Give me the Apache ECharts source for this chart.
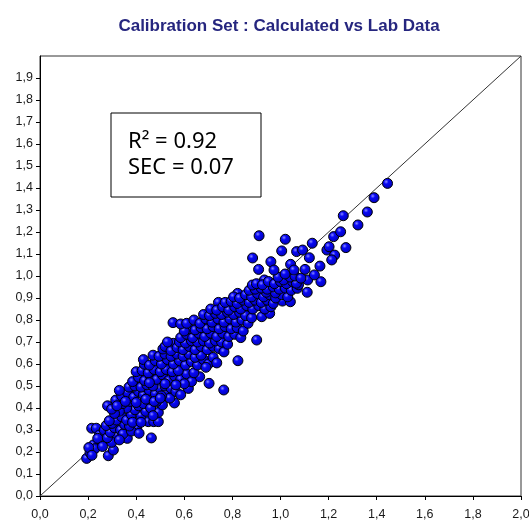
<!DOCTYPE html>
<html>
<head>
<meta charset="utf-8">
<title>Calibration Set</title>
<script src="https://cdn.jsdelivr.net/npm/echarts@6/dist/echarts.min.js"></script>
<style>
  html, body { margin: 0; padding: 0; background: #fff; }
  #main { width: 529px; height: 524px; }
</style>
</head>
<body>
<div id="main"></div>
<script>
// lab value vs calculated value
var samplePairs = [
  // low end
  [0.194,0.171],[0.208,0.197],[0.222,0.232],[0.284,0.183],[0.305,0.209],[0.215,0.308],[0.234,0.308],
  [0.247,0.277],[0.267,0.300],[0.363,0.262],[0.321,0.277],[0.298,0.244],[0.402,0.308],[0.228,0.215],
  [0.256,0.250],[0.240,0.262],[0.280,0.265],[0.292,0.290],[0.310,0.310],[0.335,0.300],[0.345,0.282],
  [0.260,0.225],[0.275,0.320],[0.330,0.255],[0.352,0.325],[0.380,0.295],[0.372,0.318],[0.412,0.285],
  [0.300,0.330],[0.318,0.345],[0.288,0.342],[0.203,0.220],[0.216,0.185],[0.463,0.264],
  // 0.33 - 0.44
  [0.281,0.410],[0.315,0.436],[0.402,0.353],[0.450,0.338],[0.473,0.338],[0.492,0.338],[0.492,0.380],
  [0.509,0.414],[0.340,0.360],[0.360,0.345],[0.380,0.370],[0.420,0.365],[0.440,0.385],[0.395,0.392],
  [0.360,0.400],[0.330,0.385],[0.345,0.420],[0.375,0.430],[0.410,0.410],[0.430,0.420],[0.460,0.400],
  [0.470,0.365],[0.310,0.375],[0.298,0.395],[0.385,0.335],[0.420,0.335],[0.455,0.440],[0.485,0.430],
  [0.350,0.440],[0.320,0.410],
  // 0.42 - 0.50
  [0.559,0.423],[0.617,0.489],[0.340,0.455],[0.365,0.470],[0.390,0.450],[0.410,0.475],[0.430,0.460],
  [0.455,0.480],[0.480,0.465],[0.500,0.490],[0.525,0.470],[0.540,0.445],[0.370,0.495],[0.395,0.500],
  [0.420,0.495],[0.445,0.505],[0.470,0.500],[0.505,0.455],[0.520,0.500],[0.545,0.490],[0.355,0.430],
  [0.400,0.425],[0.440,0.440],[0.475,0.430],[0.500,0.445],[0.565,0.475],[0.585,0.460],[0.330,0.480],
  // 0.50 - 0.57
  [0.664,0.542],[0.703,0.512],[0.764,0.482],[0.385,0.520],[0.410,0.540],[0.435,0.525],[0.460,0.545],
  [0.485,0.530],[0.510,0.550],[0.535,0.525],[0.560,0.545],[0.585,0.530],[0.610,0.555],[0.630,0.520],
  [0.400,0.565],[0.425,0.570],[0.450,0.560],[0.475,0.575],[0.500,0.565],[0.525,0.575],[0.550,0.565],
  [0.575,0.570],[0.600,0.510],[0.640,0.560],[0.455,0.515],[0.520,0.510],[0.565,0.505],
  // 0.58 - 0.64
  [0.434,0.599],[0.823,0.615],[0.430,0.620],[0.455,0.595],[0.480,0.615],[0.505,0.600],[0.530,0.620],
  [0.555,0.600],[0.580,0.615],[0.605,0.595],[0.630,0.610],[0.655,0.595],[0.680,0.620],[0.700,0.600],
  [0.470,0.640],[0.495,0.635],[0.520,0.645],[0.545,0.635],[0.570,0.645],[0.595,0.635],[0.620,0.645],
  [0.645,0.630],[0.670,0.640],[0.720,0.630],[0.690,0.585],[0.735,0.605],
  // 0.65 - 0.70
  [0.511,0.668],[0.554,0.694],[0.520,0.680],[0.545,0.660],[0.570,0.675],[0.595,0.665],[0.620,0.680],
  [0.645,0.665],[0.670,0.680],[0.695,0.665],[0.720,0.680],[0.745,0.670],[0.765,0.655],[0.580,0.700],
  [0.605,0.695],[0.630,0.705],[0.655,0.700],[0.680,0.705],[0.705,0.695],[0.730,0.705],[0.755,0.700],
  [0.780,0.690],[0.530,0.700],
  // 0.70 - 0.77
  [0.901,0.709],[0.585,0.720],[0.610,0.735],[0.635,0.720],[0.660,0.740],[0.685,0.725],[0.710,0.740],
  [0.735,0.725],[0.760,0.740],[0.785,0.725],[0.810,0.735],[0.835,0.720],[0.620,0.760],[0.645,0.755],
  [0.670,0.765],[0.695,0.760],[0.720,0.770],[0.745,0.760],[0.770,0.770],[0.795,0.760],[0.820,0.765],
  [0.845,0.750],[0.600,0.750],
  // 0.77 - 0.83
  [0.553,0.788],[0.585,0.782],[0.610,0.785],[0.640,0.800],[0.665,0.785],[0.690,0.805],[0.715,0.790],
  [0.740,0.805],[0.765,0.790],[0.790,0.805],[0.815,0.790],[0.840,0.800],[0.865,0.785],[0.680,0.825],
  [0.705,0.820],[0.730,0.830],[0.755,0.825],[0.780,0.835],[0.805,0.825],[0.830,0.835],[0.855,0.820],
  [0.880,0.810],[0.922,0.815],[0.955,0.830],
  // 0.84 - 0.89
  [0.742,0.880],[0.710,0.850],[0.735,0.845],[0.760,0.860],[0.785,0.845],[0.810,0.860],[0.835,0.850],
  [0.860,0.865],[0.885,0.850],[0.910,0.865],[0.935,0.850],[0.960,0.860],[0.770,0.880],[0.795,0.885],
  [0.820,0.875],[0.845,0.890],[0.870,0.880],[0.895,0.890],[0.920,0.880],[0.945,0.890],[0.970,0.875],
  [1.008,0.886],[1.041,0.883],
  // 0.90 - 0.95
  [0.822,0.921],[0.805,0.905],[0.830,0.900],[0.855,0.915],[0.880,0.905],[0.905,0.920],[0.930,0.905],
  [0.955,0.915],[0.980,0.900],[1.005,0.915],[1.030,0.905],[0.941,0.926],[0.979,0.923],[0.870,0.935],
  [0.895,0.940],[0.920,0.945],[0.945,0.940],[0.970,0.950],[0.995,0.940],[1.020,0.945],[1.045,0.935],
  [1.070,0.944],[1.111,0.926],
  // 0.95 - 1.01
  [0.883,0.959],[0.933,0.982],[0.900,0.965],[0.925,0.960],[0.950,0.975],[0.975,0.965],[1.000,0.975],
  [1.025,0.965],[1.050,0.975],[1.075,0.960],[1.066,0.967],[1.013,0.982],[1.113,0.982],[1.168,0.974],
  [0.990,0.995],[1.040,0.995],[1.060,1.000],[1.085,0.990],[1.019,1.009],[1.141,1.005],
  // upper end
  [0.911,1.183],[1.020,1.167],[1.132,1.149],[1.005,1.114],[1.067,1.111],[1.092,1.118],[1.193,1.118],
  [1.202,1.133],[1.225,1.095],[1.213,1.073],[0.884,1.082],[0.960,1.065],[1.120,1.083],[1.042,1.053],
  [0.909,1.030],[0.973,1.027],[1.102,1.030],[1.164,1.045],[1.056,1.027],[1.221,1.179],[1.250,1.201],
  [1.272,1.129],[1.261,1.274],[1.322,1.232],[1.361,1.291],[1.389,1.356],[1.445,1.421]
];
var identityLine = [[0, 0], [2, 2]];
var statLines = ['R² = 0.92', 'SEC = 0.07'];
var chartTitle = 'Calibration Set : Calculated vs Lab Data';

function commaLabel(v) {
  return v.toFixed(1).replace('.', ',');
}

var chart = echarts.init(document.getElementById('main'));
var option = {
  animation: false,
  backgroundColor: '#ffffff',
  title: {
    text: chartTitle,
    left: 274,
    top: 13,
    textAlign: 'center',
    textStyle: {
      fontFamily: 'Liberation Sans',
      fontSize: 17,
      fontWeight: 'bold',
      color: '#26267f'
    }
  },
  grid: {
    left: 40,
    top: 56,
    right: 8,
    bottom: 28,
    show: true,
    borderColor: '#333',
    borderWidth: 1,
    outerBoundsMode: 'none'
  },
  xAxis: {
    type: 'value',
    min: 0,
    max: 2,
    interval: 0.2,
    axisLine: { lineStyle: { color: '#000', width: 1 } },
    axisTick: { show: true, length: 4, lineStyle: { color: '#000' } },
    splitLine: { show: false },
    axisLabel: {
      margin: 12,
      color: '#1a1a1a',
      fontFamily: 'Liberation Sans',
      fontSize: 12.5,
      formatter: commaLabel
    }
  },
  yAxis: {
    type: 'value',
    min: 0,
    max: 2,
    interval: 0.1,
    axisLine: { lineStyle: { color: '#000', width: 1 } },
    axisTick: { show: true, length: 4, lineStyle: { color: '#000' } },
    splitLine: { show: false },
    axisLabel: {
      margin: 7,
      color: '#1a1a1a',
      fontFamily: 'Liberation Sans',
      fontSize: 12.5,
      showMaxLabel: false,
      formatter: commaLabel
    }
  },
  graphic: [
    {
      type: 'rect',
      shape: { x: 111, y: 113, width: 150, height: 84 },
      style: { fill: '#fff', stroke: '#000', lineWidth: 1 },
      z: 10
    },
    {
      type: 'text',
      x: 128,
      y: 129,
      z: 11,
      style: {
        text: statLines.join('\n'),
        fontFamily: 'Noto Sans',
        fontSize: 22,
        lineHeight: 26,
        fill: '#000'
      }
    }
  ],
  series: [
    {
      type: 'line',
      data: identityLine,
      symbol: 'none',
      lineStyle: { color: '#333', width: 1 },
      z: 1
    },
    {
      type: 'scatter',
      data: samplePairs,
      symbol: 'circle',
      symbolSize: 10,
      itemStyle: {
        color: {
          type: 'radial', x: 0.38, y: 0.35, r: 0.7,
          colorStops: [
            { offset: 0, color: '#8a8aff' },
            { offset: 0.3, color: '#0808f5' },
            { offset: 1, color: '#0000b0' }
          ]
        },
        borderColor: '#000',
        borderWidth: 1,
        opacity: 1
      },
      z: 2
    }
  ]
};
chart.setOption(option, true);
</script>
</body>
</html>
